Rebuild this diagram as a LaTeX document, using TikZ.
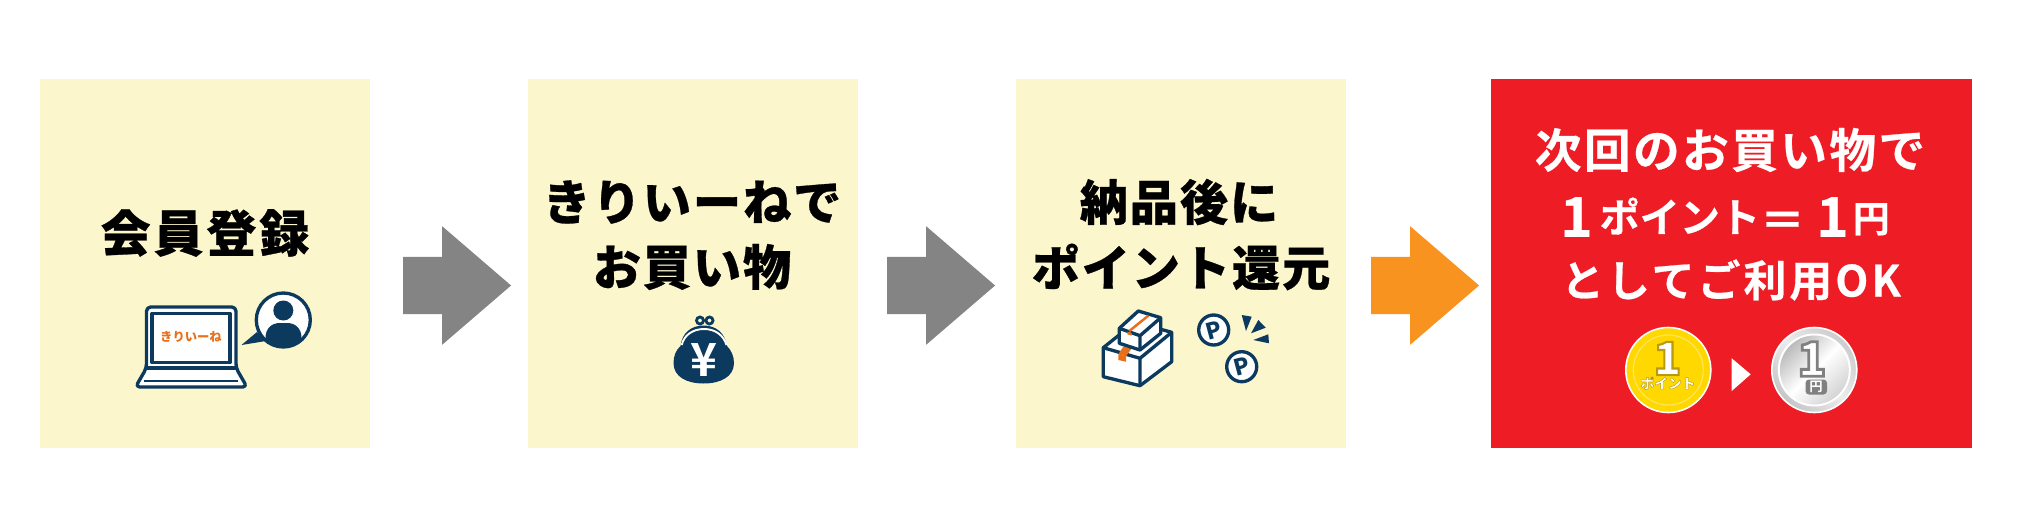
\documentclass[tikz,border=0pt]{standalone}
\usepackage{fontspec}
\usepackage{xcolor}
\usetikzlibrary{shapes.arrows}
\newfontfamily\jpblack[LetterSpace=4,FakeBold=0.6]{Noto Sans CJK JP Black}
\newfontfamily\jpbold[LetterSpace=5,FakeBold=0.5]{Noto Sans CJK JP Bold}
\newfontfamily\jptight{Noto Sans CJK JP Bold}
\newfontfamily\jpheavy{Noto Sans CJK JP Black}
\newcommand\edgetext[3]{\special{pdf:code 2 Tr #2 w #1 RG}#3\special{pdf:code 0 Tr 1 w}}
\pgfdeclarehorizontalshading{coinface}{100bp}{color(0bp)=(gray!60); color(25bp)=(gray!55); color(50bp)=(white); color(75bp)=(gray!35); color(100bp)=(gray!50)}
\pgfdeclarehorizontalshading{coinrim}{100bp}{color(0bp)=(gray!60); color(25bp)=(gray!45); color(50bp)=(gray!15); color(75bp)=(gray!40); color(100bp)=(gray!50)}
\definecolor{CreamBox}{HTML}{FCF6CC}
\definecolor{RedBox}{HTML}{EE1C25}
\definecolor{GrayArrow}{HTML}{848484}
\definecolor{OrangeArrow}{HTML}{F9931F}
\definecolor{NavyIcon}{HTML}{0B3A5E}
\definecolor{OrangeIcon}{HTML}{E8701A}
\definecolor{CoinGold}{HTML}{FFD800}
\definecolor{CoinRim}{HTML}{FFE45C}
\tikzset{
  stepbox/.style={fill=CreamBox,minimum width=3.30cm,minimum height=3.69cm,inner sep=0pt,outer sep=0pt,anchor=north west},
  flowarrow/.style={single arrow,minimum height=1.08cm,minimum width=1.17cm,single arrow head extend=0.305cm,
    single arrow tip angle=81.4,inner xsep=0pt,inner ysep=0.28cm,outer sep=0pt,anchor=tail},
  headline/.style={font=\jpblack\fontsize{13.7}{16}\selectfont,inner sep=0pt,text=black},
  redline/.style={font=\jpbold\fontsize{13.3}{16}\selectfont,inner sep=0pt,text=white},
  iconline/.style={draw=NavyIcon,line width=0.95pt,line join=round,fill=white},
  pointmark/.style={font=\jpheavy\fontsize{6.4}{9}\selectfont,text=NavyIcon,inner sep=0pt,rotate=15}
}
\begin{document}
\begin{tikzpicture}[x=0.01cm,y=-0.01cm]
    \useasboundingbox (0,0) rectangle (2021,521);

    \node[stepbox] (register) at (40,79) {};
    \node[stepbox] (shopping) at (528,79) {};
    \node[stepbox] (delivery) at (1016,79) {};
    \node[stepbox,fill=RedBox,minimum width=4.81cm] (nextbuy) at (1491,79) {};

    \node[flowarrow,fill=GrayArrow] (arrowA) at (403,285.5) {};
    \node[flowarrow,fill=GrayArrow] (arrowB) at (887,285.5) {};
    \node[flowarrow,fill=OrangeArrow] (arrowC) at (1371,285.5) {};

    \node[headline,font=\jpblack\addfontfeature{LetterSpace=6}\fontsize{14.2}{16}\selectfont] (registerText) at (205,233) {会員登録};
    \node[headline] (shopText) at (692,202) {きりいーねで};
    \node[headline] (shopTextB) at (692,267) {お買い物};
    \node[headline] (deliveryText) at (1179,202) {納品後に};
    \node[headline] (deliveryTextB) at (1181,267) {ポイント還元};

    \node[redline] (nextText) at (1730,150) {次回のお買い物で};
    \node[redline,font=\jpbold\addfontfeature{LetterSpace=0}\fontsize{11.4}{16}\selectfont] (rateText) at (1725,217) {{\fontsize{15.6}{16}\selectfont 1}\hspace{2pt}\raisebox{1.3pt}{ポイント}{\fontsize{12.8}{16}\selectfont ＝}\hspace{3.2pt}{\fontsize{15.6}{16}\selectfont 1}\hspace{1.2pt}\raisebox{1.3pt}{\fontsize{10.5}{16}\selectfont 円}};
    \node[redline,font=\jpbold\addfontfeature{LetterSpace=7}\fontsize{12.2}{16}\selectfont] (useText) at (1731,280) {としてご利用OK};

    % laptop
    \draw[iconline,rounded corners=1.2pt] (146.5,368) -- (146.5,307) -- (236,307) -- (236,368) -- (247,387) -- (135.5,387) -- cycle;
    \draw[iconline] (146.5,368) -- (236,368);
    \draw[iconline] (152,313.5) rectangle (230,362.5);
    \draw[NavyIcon,line width=0.7pt] (144,381) -- (238,381);
    \node[font=\jpheavy\fontsize{3.5}{5}\selectfont,text=OrangeIcon,inner sep=0pt] (laptopText) at (191,337) {きりいーね};

    % bubble with person
    \fill[NavyIcon] (241.5,345) -- (257,332) -- (266,341) -- cycle;
    \draw[iconline] (283.3,320) circle (27);
    \begin{scope}
        \clip (283.3,320) circle (27);
        \fill[NavyIcon] (265.5,350) -- (265.5,338) .. controls (265.5,328) and (272,323) .. (280,323) -- (287,323) .. controls (295,323) and (301.5,328) .. (301.5,338) -- (301.5,350) -- cycle;
    \end{scope}
    \fill[NavyIcon] (283.3,310.5) circle (10);

    % purse
    \draw[NavyIcon,line width=0.8pt] (700,320.5) circle (3.5) (709.5,320.5) circle (3.5);
    \fill[NavyIcon] (703.7,325.5) .. controls (716,325.5) and (725,333) .. (727,346) .. controls (731,350) and (734,356) .. (734,363) .. controls (734,377) and (720,383.5) .. (703.7,383.5) .. controls (687,383.5) and (673.5,377) .. (673.5,363) .. controls (673.5,356) and (676,350) .. (680.5,346) .. controls (682,333) and (691,325.5) .. (703.7,325.5) -- cycle;
    \draw[white,line width=0.55pt] (681.7,345) .. controls (684,335) and (693,329) .. (704,329) .. controls (715,329) and (723.5,335) .. (726.5,345);
    \node[font=\jptight\fontsize{13}{14}\selectfont,text=white,inner sep=0pt] (yenSign) at (703.7,360) {¥};

    % parcels
    \draw[iconline] (1103.3,347.7) -- (1135,322.3) -- (1171.7,332.3) -- (1171.7,361.7) -- (1140,385.7) -- (1103.3,376.7) -- cycle;
    \draw[iconline,fill=none] (1103.3,347.7) -- (1140,358.3) -- (1171.7,332.3) (1140,358.3) -- (1140,385.7);
    \fill[OrangeIcon] (1118.3,354.3) -- (1126,356.3) -- (1126,361.7) -- (1118.3,360) -- cycle;
    \fill[OrangeIcon] (1118.3,354.3) -- (1126,356.3) -- (1131.7,348.3) -- (1123.3,346.7) -- cycle;
    \draw[iconline] (1119.3,328.3) -- (1138.3,311) -- (1160.7,317.7) -- (1160.7,333.3) -- (1140,350) -- (1119.3,343.3) -- cycle;
    \draw[iconline,fill=none] (1119.3,328.3) -- (1140,335.7) -- (1160.7,317.7) (1140,335.7) -- (1140,350);
    \draw[OrangeIcon,line width=0.7pt] (1129.3,331) -- (1148.3,315.7);
    \fill[OrangeIcon] (1127.3,331.7) -- (1131.7,332.7) -- (1131.7,335.7) -- (1127.3,334.3) -- cycle;

    % point coins and sparks
    \draw[iconline] (1213.7,330) circle (15);
    \draw[iconline] (1241.7,366.7) circle (15);
    \node[pointmark] (pointA) at (1213.7,330) {P};
    \node[pointmark] (pointB) at (1241.7,366.7) {P};
    \fill[NavyIcon] (1241.7,315) -- (1251.7,316.7) -- (1246,331) -- cycle;
    \fill[NavyIcon] (1258.3,320) -- (1265.7,327.7) -- (1251,333.3) -- cycle;
    \fill[NavyIcon] (1268.3,334.3) -- (1269,343.3) -- (1253.3,340) -- cycle;

    % gold coin
    \draw[white,fill=CoinGold,line width=0.45pt] (1668.3,370) circle (42.5);
    \draw[CoinRim,line width=0.35pt] (1668.3,370) circle (35);
    \node[font=\jpheavy\fontsize{13}{14}\selectfont,text=white,inner sep=0pt] (coinOne) at (1667.5,358.5) {\edgetext{0.72 0.6 0.06}{0.6}{1}};
    \node[font=\jpheavy\fontsize{3.9}{6}\selectfont,text=white,inner sep=0pt] (coinPoint) at (1668,383) {\edgetext{0.72 0.6 0.06}{0.12}{ポイント}};

    \fill[white] (1731.7,358.3) -- (1750.7,374.3) -- (1731.7,391) -- cycle;

    % silver coin
    \shade[shading=coinrim,shading angle=45] (1814.3,370) circle (42.5);
    \draw[white,line width=0.45pt] (1814.3,370) circle (42.5);
    \shade[shading=coinface,shading angle=-45] (1814.3,370) circle (35.5);
    \draw[white,line width=0.55pt] (1814.3,370) circle (35.5);
    \node[font=\jpheavy\fontsize{13.5}{14}\selectfont,text=white,inner sep=0pt] (silverOne) at (1812,359) {\edgetext{0.5 0.5 0.5}{0.8}{1}};
    \fill[gray,rounded corners=1pt] (1805.5,379.5) rectangle (1827,394.5);
    \node[font=\jptight\fontsize{3.8}{6}\selectfont,text=white,inner sep=0pt] (silverYen) at (1816,387) {円};
\end{tikzpicture}
\end{document}
